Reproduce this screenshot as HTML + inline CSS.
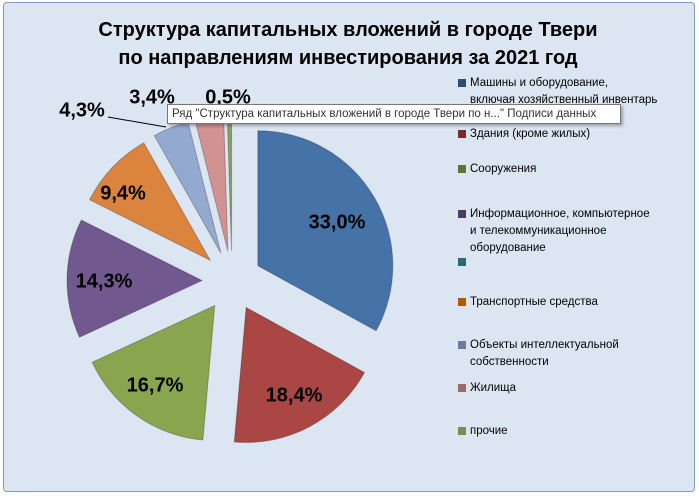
<!DOCTYPE html>
<html><head><meta charset="utf-8"><style>
body{margin:0;width:699px;height:496px;background:#fff;overflow:hidden;font-family:"Liberation Sans","DejaVu Sans",sans-serif}
#c{position:absolute;left:3px;top:2px;width:690px;height:488px;background:#dce6f2;border:1px solid #7f9cc4;border-radius:4px}
.t{position:absolute;left:0;width:690px;text-align:center;font-weight:bold;font-size:20px;color:#000}
.lg{position:absolute;left:458px;font-size:11.5px;color:#000;line-height:17px}
.lg i{position:absolute;left:0;top:4px;width:8px;height:8px}
.lg span{display:block;padding-left:12px}
.lb{position:absolute;font-weight:bold;font-size:20px;transform:translate(-50%,-50%)}
#tip{position:absolute;left:167px;top:104px;width:448px;height:18px;background:#fff;border:1px solid #777;font-size:11.5px;color:#333;line-height:18px;padding-left:4px;box-shadow:2px 2px 3px rgba(0,0,0,.3)}
</style></head><body>
<div id="c"></div>
<div class="t" style="top:19px;left:3px">Структура капитальных вложений в городе Твери</div>
<div class="t" style="top:47px;left:3px">по направлениям инвестирования за 2021 год</div>
<svg id="s" width="699" height="496" style="position:absolute;left:0;top:0"></svg>
<div class="lb" style="left:337px;top:223px">33,0%</div>
<div class="lb" style="left:294px;top:396px">18,4%</div>
<div class="lb" style="left:155px;top:386px">16,7%</div>
<div class="lb" style="left:104px;top:282px">14,3%</div>
<div class="lb" style="left:123px;top:194px">9,4%</div>
<div class="lb" style="left:82px;top:111px">4,3%</div>
<div class="lb" style="left:152px;top:98px">3,4%</div>
<div class="lb" style="left:228px;top:98px">0,5%</div>
<div class="lg" style="top:75px"><i style="background:#2c4d75"></i><span>Машины и оборудование,<br>включая хозяйственный инвентарь</span></div>
<div class="lg" style="top:126px"><i style="background:#772c2a"></i><span>Здания (кроме жилых)</span></div>
<div class="lg" style="top:161px"><i style="background:#5f7530"></i><span>Сооружения</span></div>
<div class="lg" style="top:206px"><i style="background:#4d3b62"></i><span>Информационное, компьютерное<br>и телекоммуникационное<br>оборудование</span></div>
<div class="lg" style="top:254px"><i style="background:#276a7c"></i><span>&nbsp;</span></div>
<div class="lg" style="top:294px"><i style="background:#b65708"></i><span>Транспортные средства</span></div>
<div class="lg" style="top:337px"><i style="background:#6b7b9c"></i><span>Объекты интеллектуальной<br>собственности</span></div>
<div class="lg" style="top:380px"><i style="background:#9c6b6a"></i><span>Жилища</span></div>
<div class="lg" style="top:423px"><i style="background:#7b8c5c"></i><span>прочие</span></div>
<div id="tip">Ряд "Структура капитальных вложений в городе Твери по н..." Подписи данных</div>
<script>
var v=[33,18.4,16.7,14.3,9.4,4.3,3.4,0.5],col=["#4572a7","#aa4643","#89a54e","#71588f","#db843d","#93a9cf","#d09392","#8aa06a"];
var cx=232,cy=281,r=135,off=30,a=0,h='';
function p(an,rr,ox,oy){return [ox+rr*Math.sin(an),oy-rr*Math.cos(an)];}
v.forEach(function(x,i){var a0=a,a1=a+x/100*2*Math.PI;a=a1;var m=(a0+a1)/2;var o=p(m,off,cx,cy);
var s=p(a0,r,o[0],o[1]),e=p(a1,r,o[0],o[1]);
h+='<path d="M'+o[0]+' '+o[1]+'L'+s[0]+' '+s[1]+'A'+r+' '+r+' 0 '+(a1-a0>Math.PI?1:0)+' 1 '+e[0]+' '+e[1]+'Z" fill="'+col[i]+'" stroke="rgba(0,0,0,0.25)" stroke-width="1"/>';});
h+='<polyline points="108,117 166,127" stroke="#000" fill="none" stroke-width="1"/>';
document.getElementById('s').innerHTML=h;
</script>
</body></html>
